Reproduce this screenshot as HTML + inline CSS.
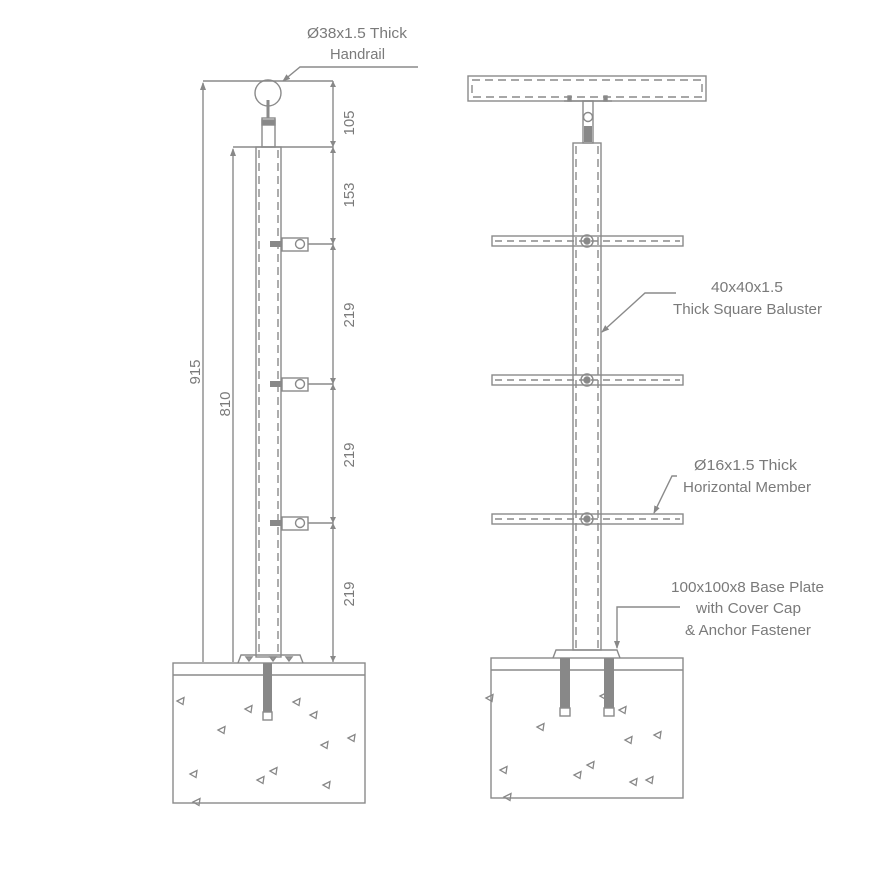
<!DOCTYPE html>
<html><head><meta charset="utf-8"><style>
html,body{margin:0;padding:0;background:#fff;width:881px;height:881px;overflow:hidden}
svg{display:block}
text{font-family:"Liberation Sans Narrow","Liberation Sans",sans-serif;fill:#7a7a7a;font-size:15px}
</style></head><body>
<svg width="881" height="881" viewBox="0 0 881 881" xmlns="http://www.w3.org/2000/svg">
<defs>
<marker id="a" markerWidth="8" markerHeight="8" refX="7" refY="4" orient="auto" markerUnits="userSpaceOnUse"><path d="M0,1 L8,4 L0,7 Z" fill="#888"/></marker>
<g id="tri"><path d="M0,0 l7,-3.5 l-1,7 z" fill="none" stroke="#888" stroke-width="1.3"/></g>
</defs>
<g stroke="#8a8a8a" stroke-width="1.4" fill="none">
<circle cx="268" cy="93" r="13"/>
<line x1="268" y1="100" x2="268" y2="118" stroke-width="3"/>
<rect x="262" y="118" width="13" height="29"/>
<rect x="262" y="120" width="13" height="5" fill="#888"/>
<rect x="256" y="147" width="25" height="510"/>
<line x1="259" y1="150" x2="259" y2="655" stroke-dasharray="8,5"/>
<line x1="278" y1="150" x2="278" y2="655" stroke-dasharray="8,5"/>
<g id="cl">
<rect x="282" y="238" width="26" height="13"/>
<circle cx="300" cy="244" r="4.5"/>
<rect x="270" y="241" width="12" height="6" fill="#888" stroke="none"/>
<line x1="308" y1="244" x2="333" y2="244"/>
</g>
<use href="#cl" y="140"/>
<use href="#cl" y="279"/>
<line x1="203" y1="81" x2="333" y2="81"/>
<line x1="203" y1="662" x2="203" y2="83" marker-end="url(#a)"/>
<line x1="233" y1="147" x2="333" y2="147"/>
<line x1="233" y1="662" x2="233" y2="149" marker-end="url(#a)"/>
<line x1="333" y1="81" x2="333" y2="662"/>
<g fill="#888" stroke="none">
<path d="M330,141 L333,147 L336,141Z M330,153 L333,147 L336,153Z M330,238 L333,244 L336,238Z M330,250 L333,244 L336,250Z M330,378 L333,384 L336,378Z M330,390 L333,384 L336,390Z M330,517 L333,523 L336,517Z M330,529 L333,523 L336,529Z M330,87 L333,81 L336,87Z M330,656 L333,662 L336,656Z"/>
</g>
<path d="M238,663 L241,655 L300,655 L303,663"/>
<path d="M246,657 l6,0 l-3,4z M270,657 l6,0 l-3,4z M286,657 l6,0 l-3,4z" fill="#999"/>
<rect x="173" y="663" width="192" height="140"/>
<line x1="173" y1="675" x2="365" y2="675"/>
<rect x="263" y="663" width="9" height="49" fill="#888" stroke="none"/>
<rect x="263" y="712" width="9" height="8"/>
<rect x="468" y="76" width="238" height="25"/>
<rect x="472" y="80" width="230" height="17" stroke-dasharray="8,5"/>
<line x1="564" y1="101" x2="612" y2="101"/>
<rect x="568" y="96" width="3" height="5" fill="#888"/>
<rect x="604" y="96" width="3" height="5" fill="#888"/>
<rect x="583" y="101" width="10" height="42"/>
<circle cx="588" cy="117" r="4.5"/>
<rect x="584" y="126" width="8" height="16" fill="#888" stroke="none"/>
<rect x="573" y="143" width="28" height="507"/>
<line x1="576" y1="146" x2="576" y2="648" stroke-dasharray="8,5"/>
<line x1="598" y1="146" x2="598" y2="648" stroke-dasharray="8,5"/>
<g id="hm">
<rect x="492" y="236" width="191" height="10"/>
<line x1="495" y1="241" x2="680" y2="241" stroke-dasharray="7,5"/>
<circle cx="587" cy="241" r="6"/>
<circle cx="587" cy="241" r="3" fill="#888"/>
</g>
<use href="#hm" y="139"/>
<use href="#hm" y="278"/>
<path d="M553,658 L556,650 L617,650 L620,658"/>
<rect x="491" y="658" width="192" height="140"/>
<line x1="491" y1="670" x2="683" y2="670"/>
<rect x="560" y="658" width="10" height="50" fill="#888" stroke="none"/>
<rect x="560" y="708" width="10" height="8"/>
<rect x="604" y="658" width="10" height="50" fill="#888" stroke="none"/>
<rect x="604" y="708" width="10" height="8"/>
<path d="M418,67 L300,67 L283,81" marker-end="url(#a)"/>
<path d="M676,293 L645,293 L602,332" marker-end="url(#a)"/>
<path d="M677,476 L672,476 L654,513" marker-end="url(#a)"/>
<path d="M680,607 L617,607 L617,648" marker-end="url(#a)"/>
</g>
<g>
<use href="#tri" x="177" y="701"/><use href="#tri" x="245" y="709"/><use href="#tri" x="293" y="702"/>
<use href="#tri" x="218" y="730"/><use href="#tri" x="310" y="715"/><use href="#tri" x="321" y="745"/>
<use href="#tri" x="348" y="738"/><use href="#tri" x="190" y="774"/><use href="#tri" x="270" y="771"/>
<use href="#tri" x="257" y="780"/><use href="#tri" x="323" y="785"/><use href="#tri" x="193" y="802"/>
<use href="#tri" x="486" y="698"/><use href="#tri" x="537" y="727"/><use href="#tri" x="600" y="696"/>
<use href="#tri" x="619" y="710"/><use href="#tri" x="625" y="740"/><use href="#tri" x="654" y="735"/>
<use href="#tri" x="500" y="770"/><use href="#tri" x="574" y="775"/><use href="#tri" x="587" y="765"/>
<use href="#tri" x="630" y="782"/><use href="#tri" x="504" y="797"/><use href="#tri" x="646" y="780"/>
</g>
<text x="307" y="38" textLength="100" lengthAdjust="spacingAndGlyphs">Ø38x1.5 Thick</text>
<text x="330" y="59" textLength="55" lengthAdjust="spacingAndGlyphs">Handrail</text>
<text transform="translate(354,123) rotate(-90)" text-anchor="middle">105</text>
<text transform="translate(354,195) rotate(-90)" text-anchor="middle">153</text>
<text transform="translate(354,315) rotate(-90)" text-anchor="middle">219</text>
<text transform="translate(354,455) rotate(-90)" text-anchor="middle">219</text>
<text transform="translate(354,594) rotate(-90)" text-anchor="middle">219</text>
<text transform="translate(200,372) rotate(-90)" text-anchor="middle">915</text>
<text transform="translate(230,404) rotate(-90)" text-anchor="middle">810</text>
<text x="711" y="292" textLength="72" lengthAdjust="spacingAndGlyphs">40x40x1.5</text>
<text x="673" y="314" textLength="149" lengthAdjust="spacingAndGlyphs">Thick Square Baluster</text>
<text x="694" y="470" textLength="103" lengthAdjust="spacingAndGlyphs">Ø16x1.5 Thick</text>
<text x="683" y="492" textLength="128" lengthAdjust="spacingAndGlyphs">Horizontal Member</text>
<text x="671" y="592" textLength="153" lengthAdjust="spacingAndGlyphs">100x100x8 Base Plate</text>
<text x="696" y="613" textLength="105" lengthAdjust="spacingAndGlyphs">with Cover Cap</text>
<text x="685" y="635" textLength="126" lengthAdjust="spacingAndGlyphs">&amp; Anchor Fastener</text>
</svg>
</body></html>
